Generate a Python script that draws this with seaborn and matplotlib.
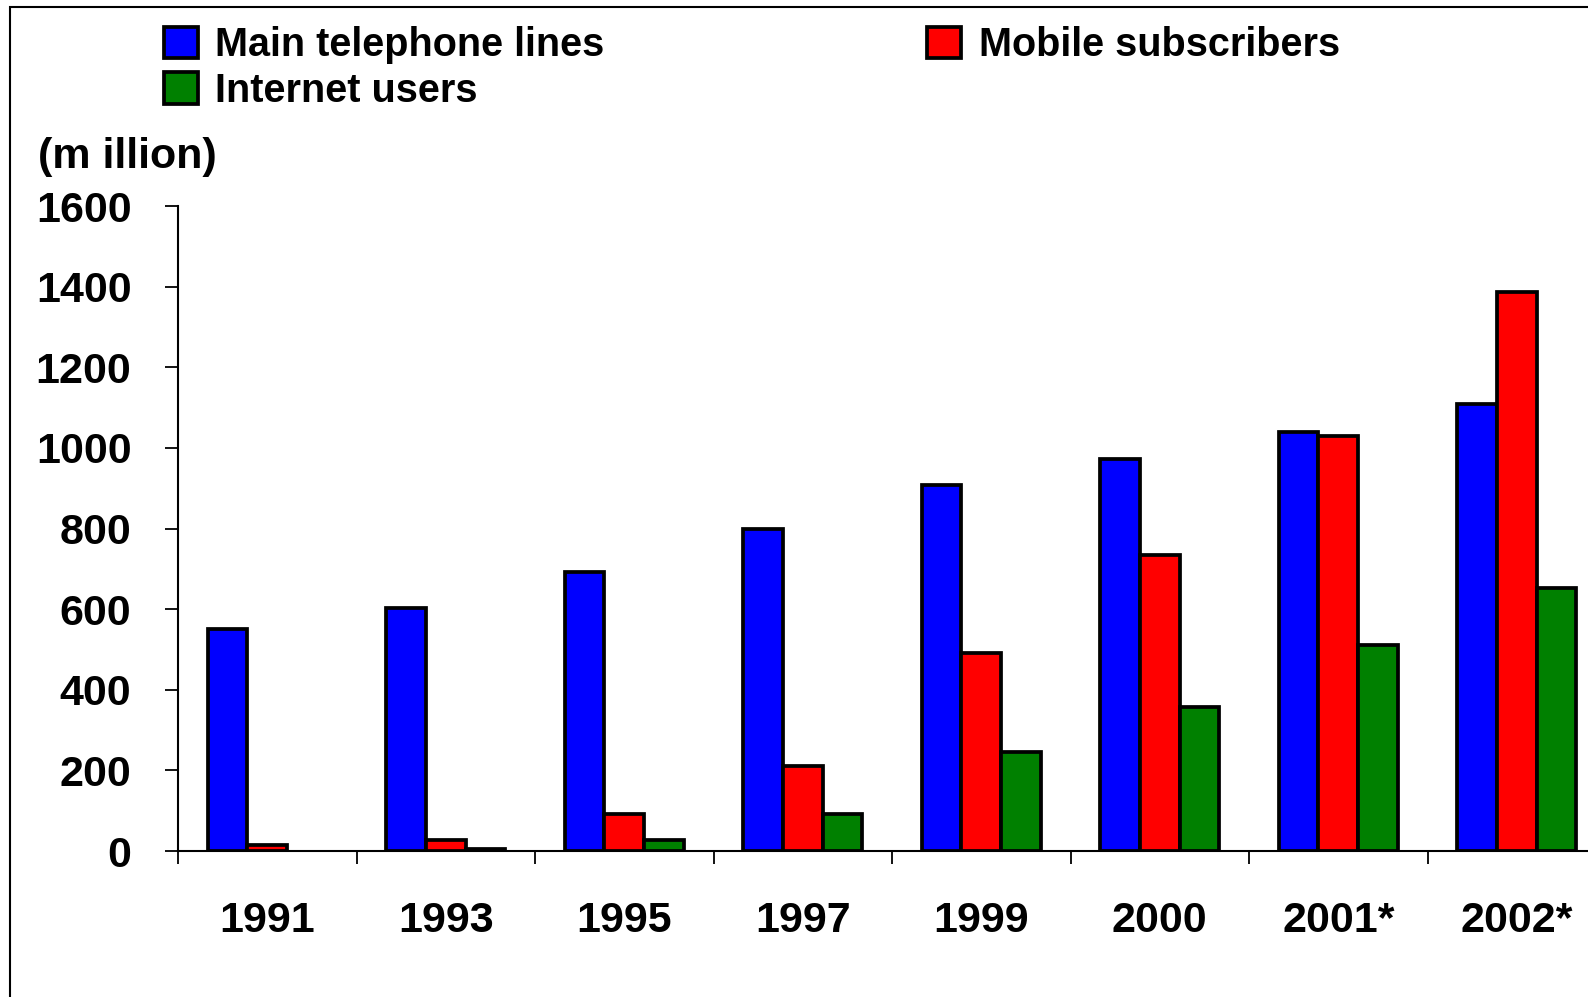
import matplotlib.pyplot as plt
import numpy as np
import pandas as pd
import seaborn as sns
from matplotlib.patches import Rectangle

years = ["1991", "1993", "1995", "1997", "1999", "2000", "2001*", "2002*"]
main_lines = [550, 603, 693, 799, 907, 972, 1040, 1110]
mobile = [16, 28, 93, 211, 490, 734, 1030, 1387]
internet = [np.nan, 5, 28, 93, 246, 357, 510, 653]
series = ["Main telephone lines", "Mobile subscribers", "Internet users"]
colors = ["#0000FF", "#FF0000", "#008000"]

df = pd.DataFrame({
    "year": years * 3,
    "value": main_lines + mobile + internet,
    "series": [series[0]] * 8 + [series[1]] * 8 + [series[2]] * 8,
})

sns.set_style("white")
plt.rcParams["font.family"] = ["Liberation Sans", "DejaVu Sans"]
plt.rcParams["font.weight"] = "bold"
plt.rcParams["text.color"] = "black"
plt.rcParams["xtick.color"] = "black"
plt.rcParams["ytick.color"] = "black"
plt.rcParams["xtick.labelcolor"] = "black"
plt.rcParams["ytick.labelcolor"] = "black"

fig = plt.figure(figsize=(15.88, 9.97), dpi=100)
ax = fig.add_axes([178 / 1588, 1 - 851 / 997, 1428 / 1588, (851 - 206) / 997])

sns.barplot(data=df, x="year", y="value", hue="series", hue_order=series,
            palette=colors, saturation=1, width=0.665,
            edgecolor="black", linewidth=2.7, ax=ax)

ax.set_xlim(-0.5, 7.5)
ax.set_ylim(0, 1600)
ax.set_yticks(range(0, 1601, 200))
ax.set_xlabel("")
ax.set_ylabel("")
for s in ["top", "right"]:
    ax.spines[s].set_visible(False)
for s in ["left", "bottom"]:
    ax.spines[s].set_linewidth(1.5)
    ax.spines[s].set_color("black")

ax.set_xticks(np.arange(-0.5, 8, 1), minor=True)
ax.tick_params(axis="x", which="major", length=0, pad=36, labelsize=31)
ax.tick_params(axis="x", which="minor", length=9.5, width=1.3, direction="out",
               color="black", bottom=True)
ax.tick_params(axis="y", length=9.5, width=1.3, direction="out", color="black",
               pad=24, labelsize=31, left=True)
for lab in ax.get_xticklabels() + ax.get_yticklabels():
    lab.set_fontweight("bold")
    lab.set_color("black")

handles, labels = ax.get_legend_handles_labels()
ax.get_legend().remove()
order = [0, 2, 1]
leg = fig.legend([handles[i] for i in order], [labels[i] for i in order],
                 loc="upper left", bbox_to_anchor=(164 / 1588, 1 - 26 / 997),
                 ncol=2, frameon=False, borderpad=0, borderaxespad=0,
                 handlelength=0.85, handleheight=0.85, handletextpad=0.45,
                 labelspacing=0.2, columnspacing=8.15,
                 prop={"size": 28.5, "weight": "bold"})
for h in leg.legend_handles:
    h.set_edgecolor("black")
    h.set_linewidth(2.7)

fig.text(38 / 1588, 1 - 157 / 997, "(m illion)", fontsize=31,
         fontweight="bold", va="center", ha="left")

fig.patches.append(Rectangle((10 / 1588, -0.1), 1.2, 1.1 - 7 / 997,
                             transform=fig.transFigure, fill=False,
                             edgecolor="black", linewidth=1.5))

plt.savefig("out.png", dpi=100)
